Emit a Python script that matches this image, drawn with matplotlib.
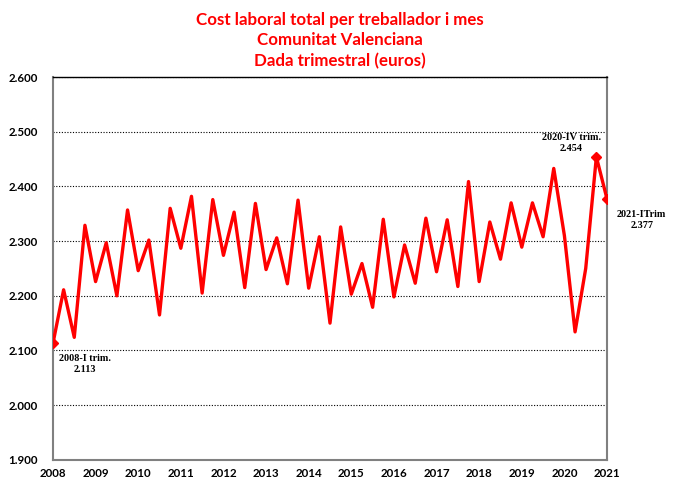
import numpy as np
import matplotlib
matplotlib.use("Agg")
import matplotlib.pyplot as plt
from matplotlib.ticker import FuncFormatter

# quarterly labour cost, 2008-I .. 2021-I (euros)
years = list(range(2008, 2022))
cost = [2113, 2211, 2124, 2329,
        2226, 2297, 2200, 2357,
        2246, 2302, 2165, 2360,
        2287, 2382, 2205, 2376,
        2274, 2353, 2215, 2369,
        2248, 2306, 2222, 2375,
        2214, 2308, 2150, 2326,
        2203, 2259, 2179, 2340,
        2198, 2293, 2223, 2342,
        2244, 2339, 2217, 2409,
        2226, 2335, 2267, 2370,
        2289, 2370, 2308, 2433,
        2310, 2134, 2250, 2454,
        2377]
quarters = [years[0] + i * 0.25 for i in range(len(cost))]

highlight = [0, 51, 52]
labels = ["2008-I trim.\n2.113", "2020-IV trim.\n2.454", "2021-ITrim\n2.377"]

red = "#ff0000"

fig = plt.figure(figsize=(6.79, 4.82), dpi=100)
ax = fig.add_axes([0.078, 0.046, 0.816, 0.794])

ax.plot(quarters, cost, color=red, linewidth=2.4, zorder=3)
ax.plot([quarters[i] for i in highlight], [cost[i] for i in highlight],
        linestyle="none", marker="D", markersize=5, color=red, zorder=4)

# point labels
txt = dict(textcoords="offset points", ha="center", fontsize=7.3,
           fontweight="bold", family="Liberation Serif", linespacing=1.2)
ax.annotate(labels[0], (quarters[0], cost[0]), xytext=(23, -8), va="top", **txt)
ax.annotate(labels[1], (quarters[51], cost[51]), xytext=(-18, 3), va="bottom", **txt)
ax.annotate(labels[2], (quarters[52], cost[52]), xytext=(25, -8), va="top", **txt)

ax.set_xlim(2008, 2021)
ax.set_ylim(1900, 2600)
ax.set_xticks(years)
ax.set_yticks(np.arange(1900, 2601, 100))
ax.yaxis.set_major_formatter(FuncFormatter(lambda v, p: f"{int(v):,}".replace(",", ".")))

for lab in ax.get_xticklabels() + ax.get_yticklabels():
    lab.set_fontweight("bold")
    lab.set_fontfamily("Lato")
    lab.set_fontsize(8.3)

ax.tick_params(axis="x", length=0, pad=6)
ax.tick_params(axis="y", length=0, pad=11)

ax.grid(axis="y", color="black", linestyle=(0, (1, 1.5)), linewidth=0.8)
ax.set_axisbelow(True)

for s in ["left", "bottom", "right"]:
    ax.spines[s].set_color("#808080")
    ax.spines[s].set_linewidth(1.5)
ax.spines["top"].set_color("black")
ax.spines["top"].set_linewidth(1.0)

fig.text(0.5, 0.976, "Cost laboral total per treballador i mes\nComunitat Valenciana\nDada trimestral (euros)",
         ha="center", va="top", color=red, fontsize=12.2, fontweight="bold",
         family="Lato", linespacing=1.35)

fig.savefig("out.png", dpi=100)
